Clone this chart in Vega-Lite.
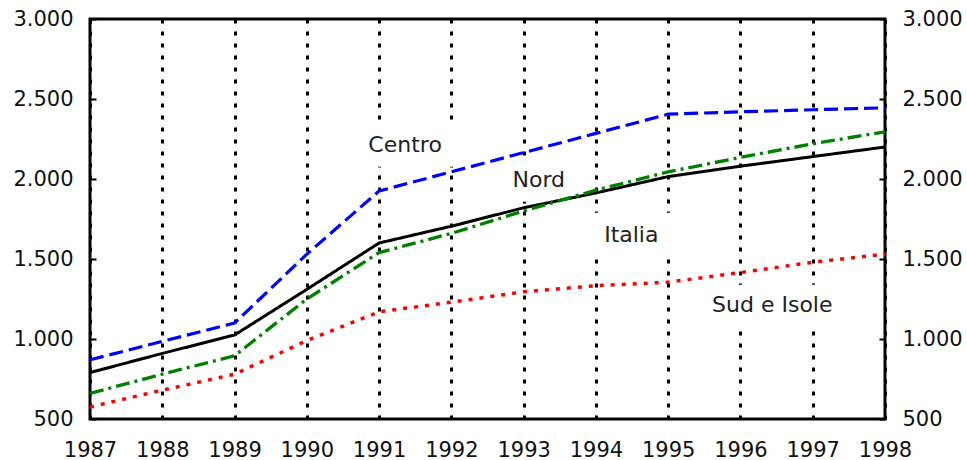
{
  "$schema": "https://vega.github.io/schema/vega-lite/v6.json",
  "width": 795,
  "height": 400,
  "autosize": {"type": "none"},
  "padding": {"left": 90, "top": 19, "right": 82, "bottom": 41},
  "background": "white",
  "config": {"view": {"stroke": "#000", "strokeWidth": 3}, "font": "DejaVu Sans"},
  "datasets": {
    "series": [
      {"year": 1987, "series": "Italia", "value": 790},
      {"year": 1988, "series": "Italia", "value": 910},
      {"year": 1989, "series": "Italia", "value": 1025},
      {"year": 1990, "series": "Italia", "value": 1310},
      {"year": 1991, "series": "Italia", "value": 1600},
      {"year": 1992, "series": "Italia", "value": 1705},
      {"year": 1993, "series": "Italia", "value": 1820},
      {"year": 1994, "series": "Italia", "value": 1913},
      {"year": 1995, "series": "Italia", "value": 2015},
      {"year": 1996, "series": "Italia", "value": 2080},
      {"year": 1997, "series": "Italia", "value": 2140},
      {"year": 1998, "series": "Italia", "value": 2200},
      {"year": 1987, "series": "Centro", "value": 870},
      {"year": 1988, "series": "Centro", "value": 985},
      {"year": 1989, "series": "Centro", "value": 1100},
      {"year": 1990, "series": "Centro", "value": 1530},
      {"year": 1991, "series": "Centro", "value": 1925},
      {"year": 1992, "series": "Centro", "value": 2045},
      {"year": 1993, "series": "Centro", "value": 2165},
      {"year": 1994, "series": "Centro", "value": 2285},
      {"year": 1995, "series": "Centro", "value": 2405},
      {"year": 1996, "series": "Centro", "value": 2420},
      {"year": 1997, "series": "Centro", "value": 2433},
      {"year": 1998, "series": "Centro", "value": 2445},
      {"year": 1987, "series": "Nord", "value": 660},
      {"year": 1988, "series": "Nord", "value": 780},
      {"year": 1989, "series": "Nord", "value": 895},
      {"year": 1990, "series": "Nord", "value": 1250},
      {"year": 1991, "series": "Nord", "value": 1540},
      {"year": 1992, "series": "Nord", "value": 1660},
      {"year": 1993, "series": "Nord", "value": 1800},
      {"year": 1994, "series": "Nord", "value": 1930},
      {"year": 1995, "series": "Nord", "value": 2045},
      {"year": 1996, "series": "Nord", "value": 2135},
      {"year": 1997, "series": "Nord", "value": 2220},
      {"year": 1998, "series": "Nord", "value": 2295},
      {"year": 1987, "series": "Sud e Isole", "value": 575},
      {"year": 1988, "series": "Sud e Isole", "value": 680},
      {"year": 1989, "series": "Sud e Isole", "value": 780},
      {"year": 1990, "series": "Sud e Isole", "value": 990},
      {"year": 1991, "series": "Sud e Isole", "value": 1170},
      {"year": 1992, "series": "Sud e Isole", "value": 1230},
      {"year": 1993, "series": "Sud e Isole", "value": 1295},
      {"year": 1994, "series": "Sud e Isole", "value": 1333},
      {"year": 1995, "series": "Sud e Isole", "value": 1355},
      {"year": 1996, "series": "Sud e Isole", "value": 1415},
      {"year": 1997, "series": "Sud e Isole", "value": 1480},
      {"year": 1998, "series": "Sud e Isole", "value": 1530}
    ],
    "labels": [
      {"label": "Centro", "year": 1991.36, "value": 2214},
      {"label": "Nord", "year": 1993.21, "value": 1996},
      {"label": "Italia", "year": 1994.49, "value": 1652},
      {"label": "Sud e Isole", "year": 1996.44, "value": 1214}
    ],
    "boxes": [
      {"label": "Centro", "year": 1990.54, "year2": 1992.16, "value": 2352, "value2": 2077},
      {"label": "Nord", "year": 1992.58, "year2": 1993.85, "value": 2133, "value2": 1858},
      {"label": "Italia", "year": 1993.85, "year2": 1995.16, "value": 1789, "value2": 1508},
      {"label": "Sud e Isole", "year": 1995.29, "year2": 1997.6, "value": 1339, "value2": 1058}
    ]
  },
  "layer": [
    {
      "encoding": {
        "x": {
          "field": "year", "type": "quantitative",
          "scale": {"domain": [1987, 1998], "nice": false, "zero": false},
          "axis": {
            "values": [1987, 1988, 1989, 1990, 1991, 1992, 1993, 1994, 1995, 1996, 1997, 1998],
            "format": "d", "title": null,
            "labelFont": "DejaVu Sans", "labelFontSize": 21, "labelColor": "#111",
            "labelPadding": 20, "ticks": false, "domain": false,
            "grid": true, "gridColor": "#000", "gridWidth": 3, "gridDash": [4, 8], "gridOpacity": 1,
            "labelFlush": false, "labelOverlap": false, "labelBound": false
          }
        },
        "y": {
          "field": "value", "type": "quantitative",
          "scale": {"domain": [500, 3000], "nice": false, "zero": false},
          "axis": {
            "values": [500, 1000, 1500, 2000, 2500, 3000],
            "labelExpr": "replace(format(datum.value, ','), ',', '.')",
            "title": null, "grid": false, "domain": false,
            "ticks": true, "tickSize": -6, "tickWidth": 2, "tickColor": "#000",
            "labelPadding": 23, "labelFont": "DejaVu Sans", "labelFontSize": 21, "labelColor": "#111",
            "labelFlush": false, "labelOverlap": false, "labelBound": false
          }
        }
      },
      "layer": [
        {
          "data": {"name": "boxes"},
          "mark": {"type": "rect", "fill": "white", "stroke": null},
          "encoding": {"x2": {"field": "year2"}, "y2": {"field": "value2"}}
        },
        {
          "data": {"name": "labels"},
          "mark": {"type": "text", "font": "DejaVu Sans", "fontSize": 22, "color": "#222", "align": "center", "baseline": "middle"},
          "encoding": {"text": {"field": "label"}}
        },
        {
          "data": {"name": "series"},
          "mark": {"type": "line", "strokeCap": "butt", "strokeJoin": "miter"},
          "encoding": {
            "color": {"field": "series", "type": "nominal", "legend": null,
              "scale": {"domain": ["Sud e Isole", "Nord", "Centro", "Italia"], "range": ["#FF0000", "#008000", "#0000FF", "#000000"]}},
            "strokeDash": {"field": "series", "type": "nominal", "legend": null,
              "scale": {"domain": ["Sud e Isole", "Nord", "Centro", "Italia"], "range": [[4, 7], [14, 5, 3, 5], [14, 6], [1, 0]]}},
            "strokeWidth": {"field": "series", "type": "nominal", "legend": null,
              "scale": {"domain": ["Sud e Isole", "Nord", "Centro", "Italia"], "range": [3.5, 3, 3, 4]}}
          }
        }
      ]
    },
    {
      "data": {"name": "series"},
      "mark": {"type": "line", "opacity": 0},
      "encoding": {
        "x": {
          "field": "year", "type": "quantitative",
          "scale": {"domain": [1987, 1998], "nice": false, "zero": false},
          "axis": {
            "values": [1987, 1988, 1989, 1990, 1991, 1992, 1993, 1994, 1995, 1996, 1997, 1998],
            "format": "d", "title": null,
            "labelFont": "DejaVu Sans", "labelFontSize": 21, "labelColor": "#111",
            "labelPadding": 20, "ticks": false, "domain": false,
            "grid": true, "gridColor": "#000", "gridWidth": 3, "gridDash": [4, 8], "gridOpacity": 1,
            "labelFlush": false, "labelOverlap": false, "labelBound": false
          }
        },
        "y": {
          "field": "value", "type": "quantitative",
          "scale": {"domain": [500, 3000], "nice": false, "zero": false},
          "axis": {
            "orient": "right",
            "values": [500, 1000, 1500, 2000, 2500, 3000],
            "labelExpr": "replace(format(datum.value, ','), ',', '.')",
            "title": null, "grid": false, "domain": false,
            "ticks": true, "tickSize": -6, "tickWidth": 2, "tickColor": "#000",
            "labelPadding": 23, "labelFont": "DejaVu Sans", "labelFontSize": 21, "labelColor": "#111",
            "labelFlush": false, "labelOverlap": false, "labelBound": false
          }
        },
        "detail": {"field": "series", "type": "nominal"}
      }
    }
  ],
  "resolve": {"scale": {"y": "independent"}, "axis": {"y": "independent"}}
}
